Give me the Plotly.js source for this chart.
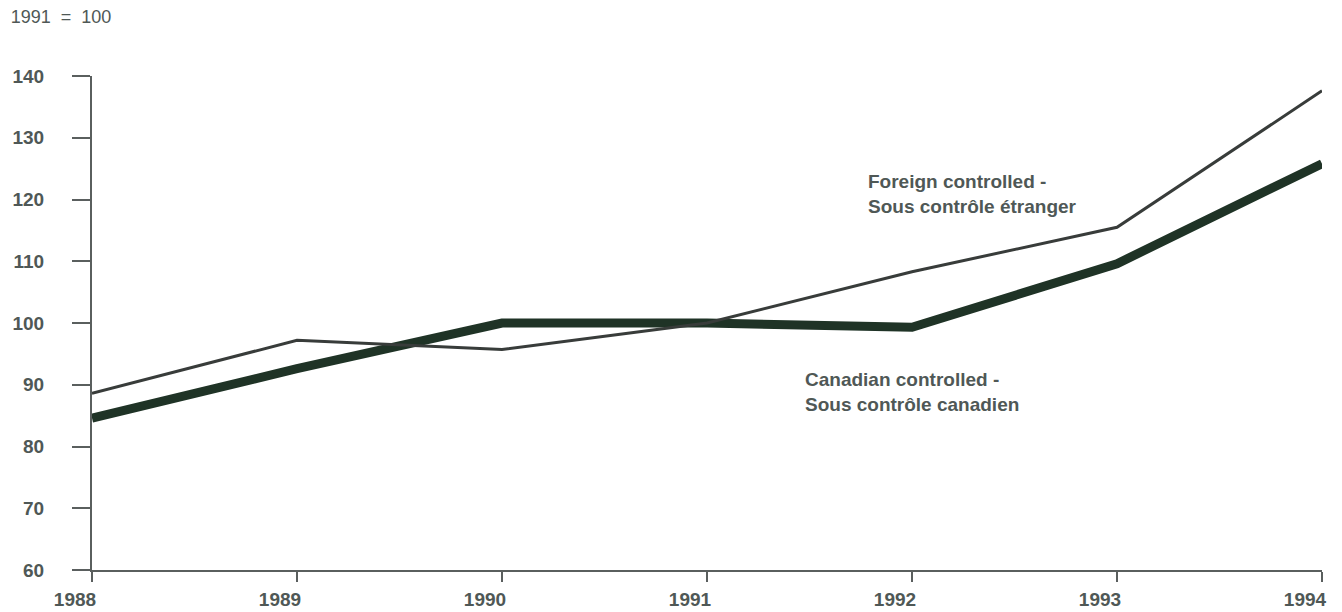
<!DOCTYPE html>
<html>
<head>
<meta charset="utf-8">
<script src="https://cdn.plot.ly/plotly-3.0.1.min.js"></script>
<style>html,body{margin:0;padding:0;background:#fff;}#chart{width:1342px;height:612px;}</style>
</head>
<body>
<div id="chart"></div>
<script>
const years = [1988, 1989, 1990, 1991, 1992, 1993, 1994];
const foreignControlled = [88.6, 97.2, 95.7, 100, 108.3, 115.5, 137.6];
const canadianControlled = [84.6, 92.6, 100, 100, 99.3, 109.6, 125.8];
const yTicks = [60, 70, 80, 90, 100, 110, 120, 130, 140];
const foreignLabel = 'Foreign controlled -<br>Sous contrôle étranger';
const canadianLabel = 'Canadian controlled -<br>Sous contrôle canadien';
const baseNote = '1991 = 100';

const textColor = '#4f5856';
const font = 'Liberation Sans, Arial, Helvetica, sans-serif';

const traces = [
  {x: years, y: canadianControlled, type: 'scatter', mode: 'lines',
   line: {color: '#1f3326', width: 9}, cliponaxis: false, hoverinfo: 'skip'},
  {x: years, y: foreignControlled, type: 'scatter', mode: 'lines',
   line: {color: '#383c3a', width: 3}, cliponaxis: false, hoverinfo: 'skip'}
];

const layout = {
  width: 1342, height: 612,
  margin: {l: 92, r: 20, t: 76, b: 42},
  paper_bgcolor: '#fff', plot_bgcolor: '#fff',
  showlegend: false,
  font: {family: font, color: textColor},
  title: {text: baseNote.replace(/ /g, '\u00a0\u00a0'), x: 0.008, xref: 'container', xanchor: 'left',
          y: 0.972, yref: 'container', yanchor: 'middle',
          font: {family: font, size: 18, color: textColor}},
  xaxis: {
    range: [1988, 1994], tickvals: years, ticktext: years.map(String),
    showgrid: false, zeroline: false,
    showline: true, linecolor: '#5a5f5e', linewidth: 2,
    ticks: 'outside', ticklen: 10, tickwidth: 1.5, tickcolor: '#5a5f5e',
    ticklabelshift: -17, ticklabelstandoff: 1,
    tickfont: {family: font, size: 19, color: textColor, weight: 'bold'}
  },
  yaxis: {
    range: [60, 140], tickvals: yTicks,
    showgrid: false, zeroline: false,
    showline: true, linecolor: '#5a5f5e', linewidth: 2,
    ticks: 'outside', ticklen: 18, tickwidth: 2, tickcolor: '#5a5f5e',
    ticklabelstandoff: 24,
    tickfont: {family: font, size: 19, color: textColor, weight: 'bold'}
  },
  annotations: [
    {x: 1991.776, y: 120.9, xref: 'x', yref: 'y', text: foreignLabel, showarrow: false,
     xanchor: 'left', yanchor: 'middle', align: 'left',
     font: {family: font, size: 19, color: textColor, weight: 'bold'}},
    {x: 1991.468, y: 88.8, xref: 'x', yref: 'y', text: canadianLabel, showarrow: false,
     xanchor: 'left', yanchor: 'middle', align: 'left',
     font: {family: font, size: 19, color: textColor, weight: 'bold'}}
  ]
};

Plotly.newPlot('chart', traces, layout, {staticPlot: true, displayModeBar: false});
</script>
</body>
</html>
